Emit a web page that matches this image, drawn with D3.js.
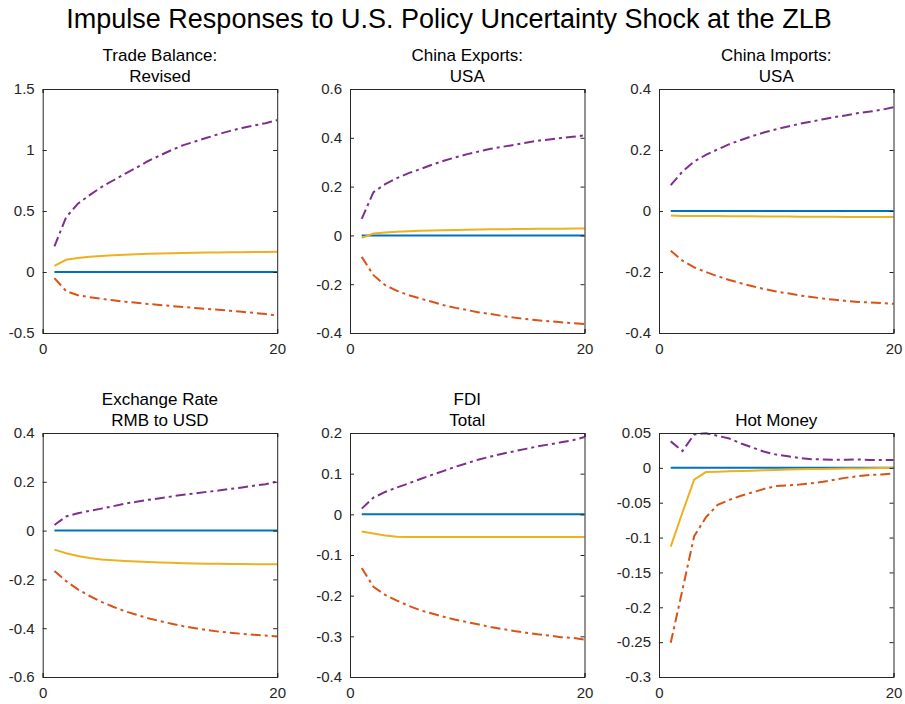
<!DOCTYPE html>
<html>
<head>
<meta charset="utf-8">
<script src="https://cdn.jsdelivr.net/npm/d3@7"></script>
<style>
  html, body { margin: 0; padding: 0; background: #fff; }
  svg { display: block; font-family: "Liberation Sans", Arial, Helvetica, sans-serif; }
</style>
</head>
<body>
<svg id="chart" width="905" height="704"></svg>
<script>
// Forecast horizon (periods after the shock)
const horizon = [1, 2, 3, 4, 5, 6, 7, 8, 9, 10, 11, 12, 13, 14, 15, 16, 17, 18, 19, 20];

// Trade Balance: Revised
const tradeUpper  = [0.21, 0.45, 0.56, 0.63, 0.695, 0.75, 0.805, 0.855, 0.91, 0.955, 1.0, 1.04, 1.07, 1.10, 1.13, 1.157, 1.18, 1.20, 1.22, 1.245];
const tradeMedian = [0.05, 0.10, 0.115, 0.125, 0.132, 0.138, 0.142, 0.146, 0.149, 0.152, 0.154, 0.156, 0.158, 0.159, 0.160, 0.161, 0.162, 0.163, 0.164, 0.165];
const tradeLower  = [-0.05, -0.157, -0.19, -0.207, -0.22, -0.232, -0.243, -0.253, -0.262, -0.27, -0.279, -0.287, -0.295, -0.303, -0.31, -0.318, -0.326, -0.335, -0.345, -0.355];

// China Exports: USA
const exportsUpper  = [0.068, 0.177, 0.21, 0.235, 0.255, 0.272, 0.29, 0.306, 0.32, 0.333, 0.344, 0.355, 0.363, 0.371, 0.38, 0.388, 0.393, 0.399, 0.404, 0.41];
const exportsMedian = [-0.01, 0.008, 0.012, 0.015, 0.017, 0.019, 0.02, 0.021, 0.022, 0.023, 0.024, 0.025, 0.025, 0.026, 0.026, 0.027, 0.027, 0.027, 0.028, 0.028];
const exportsLower  = [-0.088, -0.163, -0.204, -0.227, -0.245, -0.259, -0.272, -0.286, -0.297, -0.306, -0.316, -0.322, -0.33, -0.337, -0.343, -0.348, -0.352, -0.356, -0.36, -0.363];

// China Imports: USA
const importsUpper  = [0.085, 0.129, 0.162, 0.184, 0.202, 0.219, 0.233, 0.246, 0.258, 0.268, 0.277, 0.286, 0.293, 0.301, 0.308, 0.314, 0.321, 0.326, 0.332, 0.34];
const importsMedian = [-0.015, -0.016, -0.016, -0.016, -0.016, -0.017, -0.017, -0.017, -0.018, -0.018, -0.018, -0.019, -0.019, -0.019, -0.019, -0.02, -0.02, -0.02, -0.02, -0.02];
const importsLower  = [-0.13, -0.163, -0.185, -0.2, -0.214, -0.226, -0.237, -0.247, -0.256, -0.264, -0.27, -0.277, -0.282, -0.287, -0.291, -0.295, -0.298, -0.3, -0.302, -0.304];

// Exchange Rate RMB to USD
const fxUpper  = [0.023, 0.058, 0.071, 0.081, 0.09, 0.1, 0.11, 0.118, 0.126, 0.133, 0.14, 0.147, 0.152, 0.159, 0.164, 0.171, 0.177, 0.184, 0.19, 0.201];
const fxMedian = [-0.078, -0.093, -0.104, -0.112, -0.118, -0.122, -0.125, -0.127, -0.129, -0.131, -0.132, -0.134, -0.135, -0.136, -0.136, -0.137, -0.137, -0.138, -0.138, -0.138];
const fxLower  = [-0.166, -0.207, -0.241, -0.268, -0.292, -0.312, -0.33, -0.345, -0.359, -0.371, -0.382, -0.392, -0.4, -0.407, -0.414, -0.419, -0.423, -0.427, -0.43, -0.434];

// FDI Total
const fdiUpper  = [0.014, 0.041, 0.055, 0.066, 0.076, 0.087, 0.097, 0.107, 0.117, 0.126, 0.135, 0.142, 0.149, 0.155, 0.161, 0.167, 0.172, 0.177, 0.182, 0.19];
const fdiMedian = [-0.042, -0.047, -0.052, -0.055, -0.0555, -0.056, -0.056, -0.0558, -0.0556, -0.0555, -0.0555, -0.0555, -0.0555, -0.0556, -0.0556, -0.0556, -0.0557, -0.0557, -0.0557, -0.0557];
const fdiLower  = [-0.132, -0.178, -0.198, -0.212, -0.225, -0.236, -0.244, -0.252, -0.259, -0.265, -0.271, -0.277, -0.282, -0.287, -0.291, -0.295, -0.298, -0.302, -0.304, -0.308];

// Hot Money
const hotUpper  = [0.038, 0.024, 0.048, 0.0495, 0.046, 0.042, 0.035, 0.029, 0.023, 0.019, 0.0167, 0.014, 0.0125, 0.012, 0.0114, 0.0118, 0.012, 0.0114, 0.0112, 0.0112];
const hotMedian = [-0.113, -0.064, -0.017, -0.006, -0.0055, -0.005, -0.0045, -0.004, -0.0035, -0.003, -0.0025, -0.002, -0.0018, -0.0015, -0.0012, -0.001, -0.0008, -0.0005, -0.0003, -0.0002];
const hotLower  = [-0.251, -0.175, -0.098, -0.071, -0.053, -0.046, -0.04, -0.035, -0.03, -0.026, -0.025, -0.024, -0.022, -0.02, -0.017, -0.014, -0.012, -0.01, -0.0095, -0.008];

// Axis ticks
const xTicks = [0, 20];
const tradeTicks   = [-0.5, 0, 0.5, 1, 1.5];
const exportsTicks = [-0.4, -0.2, 0, 0.2, 0.4, 0.6];
const importsTicks = [-0.4, -0.2, 0, 0.2, 0.4];
const fxTicks      = [-0.6, -0.4, -0.2, 0, 0.2, 0.4];
const fdiTicks     = [-0.4, -0.3, -0.2, -0.1, 0, 0.1, 0.2];
const hotTicks     = [-0.3, -0.25, -0.2, -0.15, -0.1, -0.05, 0, 0.05];

const mainTitle = "Impulse Responses to U.S. Policy Uncertainty Shock at the ZLB";

const panels = [
  { title: ["Trade Balance:", "Revised"], ticks: tradeTicks, upper: tradeUpper, median: tradeMedian, lower: tradeLower },
  { title: ["China Exports:", "USA"], ticks: exportsTicks, upper: exportsUpper, median: exportsMedian, lower: exportsLower },
  { title: ["China Imports:", "USA"], ticks: importsTicks, upper: importsUpper, median: importsMedian, lower: importsLower },
  { title: ["Exchange Rate", "RMB to USD"], ticks: fxTicks, upper: fxUpper, median: fxMedian, lower: fxLower },
  { title: ["FDI", "Total"], ticks: fdiTicks, upper: fdiUpper, median: fdiMedian, lower: fdiLower },
  { title: ["Hot Money"], ticks: hotTicks, upper: hotUpper, median: hotMedian, lower: hotLower }
];

const colors = { zero: "#0072BD", median: "#EDB120", upper: "#7E2F8E", lower: "#D95319" };
const ink = "#262626";
const dashDot = "10,4,3,4";

const colLeft = [42.7, 350, 659];
const rowTop = [89, 433];
const plotW = 234.5;
const plotH = 244;

const svg = d3.select("#chart");

svg.append("text")
  .attr("x", 449)
  .attr("y", 28)
  .attr("text-anchor", "middle")
  .attr("font-size", 27)
  .attr("fill", "#000")
  .text(mainTitle);

const fmt = v => Math.abs(v) < 1e-9 ? "0" : String(Math.round(v * 1000) / 1000);

panels.forEach((p, i) => {
  const left = colLeft[i % 3];
  const top = rowTop[Math.floor(i / 3)];
  const g = svg.append("g").attr("transform", `translate(${left},${top})`);

  const x = d3.scaleLinear().domain([0, 20]).range([0, plotW]);
  const y = d3.scaleLinear().domain(d3.extent(p.ticks)).range([plotH, 0]);

  // Data lines
  const line = d3.line().x((d, k) => x(horizon[k])).y(d => y(d));
  const zeros = horizon.map(() => 0);

  g.append("path").datum(zeros).attr("d", line)
    .attr("fill", "none").attr("stroke", colors.zero).attr("stroke-width", 2);
  g.append("path").datum(p.median).attr("d", line)
    .attr("fill", "none").attr("stroke", colors.median).attr("stroke-width", 2);
  g.append("path").datum(p.upper).attr("d", line)
    .attr("fill", "none").attr("stroke", colors.upper).attr("stroke-width", 2)
    .attr("stroke-dasharray", dashDot);
  g.append("path").datum(p.lower).attr("d", line)
    .attr("fill", "none").attr("stroke", colors.lower).attr("stroke-width", 2)
    .attr("stroke-dasharray", dashDot);

  // Axes with inward ticks on all sides
  const yAxisL = d3.axisLeft(y).tickValues(p.ticks).tickSize(-4).tickPadding(8).tickFormat(fmt);
  const yAxisR = d3.axisRight(y).tickValues(p.ticks).tickSize(-4).tickFormat("");
  const xAxisB = d3.axisBottom(x).tickValues(xTicks).tickSize(-4).tickPadding(10).tickFormat(fmt);
  const xAxisT = d3.axisTop(x).tickValues(xTicks).tickSize(-4).tickFormat("");

  const axes = [
    g.append("g").call(yAxisL),
    g.append("g").attr("transform", `translate(${plotW},0)`).call(yAxisR),
    g.append("g").attr("transform", `translate(0,${plotH})`).call(xAxisB),
    g.append("g").call(xAxisT)
  ];
  axes.forEach(a => {
    a.select(".domain").attr("stroke", ink).attr("stroke-width", 1);
    a.selectAll(".tick line").attr("stroke", ink).attr("stroke-width", 1);
    a.selectAll(".tick text").attr("fill", ink).attr("font-size", 15)
      .attr("font-family", "\"Liberation Sans\", Arial, sans-serif");
  });

  // Panel title (one or two lines)
  const n = p.title.length;
  p.title.forEach((t, k) => {
    g.append("text")
      .attr("x", plotW / 2)
      .attr("y", -7 - (n - 1 - k) * 21)
      .attr("text-anchor", "middle")
      .attr("font-size", 17)
      .attr("fill", "#000")
      .text(t);
  });
});
</script>
</body>
</html>
